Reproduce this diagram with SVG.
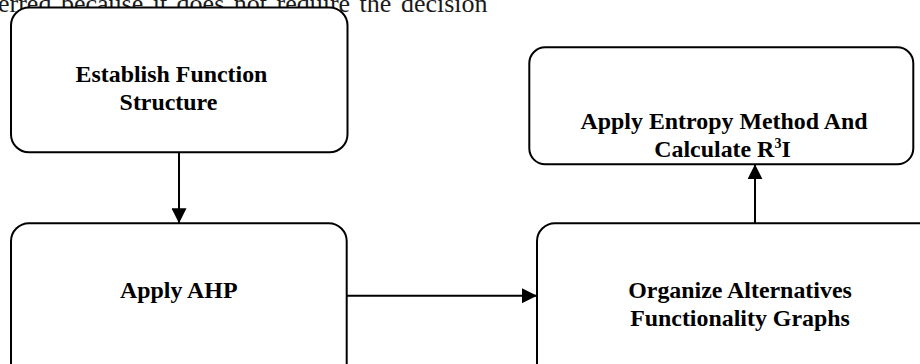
<svg xmlns="http://www.w3.org/2000/svg" width="920" height="364" viewBox="0 0 920 364">
<style>
.box{fill:#fff;stroke:#000;stroke-width:2}
.lbl{font-family:"Liberation Serif","Times New Roman",serif;font-weight:bold;font-size:23.9px;fill:#000;text-anchor:middle}
.body{font-family:"Liberation Serif","Times New Roman",serif;font-size:26px;fill:#1a1a1a}
.edge{stroke:#000;stroke-width:2;fill:none;marker-end:url(#ah)}
</style>
<defs>
<marker id="ah" markerUnits="userSpaceOnUse" markerWidth="15" markerHeight="15" viewBox="0 0 15 15" refX="15" refY="7.5" orient="auto">
<path d="M0,0 L15,7.5 L0,15 z" fill="#000"/>
</marker>
</defs>
<rect width="920" height="364" fill="#fff"/>
<text class="body" x="-2" y="12" word-spacing="3">erred because it does not require the decision</text>
<g id="n1">
<rect class="box" x="11" y="7.5" width="336.5" height="144.8" rx="18"/>
<text class="lbl" x="171.5" y="81.7">Establish Function</text>
<text class="lbl" x="168.5" y="110">Structure</text>
</g>
<g id="n2">
<rect class="box" x="529.3" y="47.3" width="384" height="117" rx="16"/>
<text class="lbl" x="724" y="129.3">Apply Entropy Method And</text>
<text class="lbl" x="722.5" y="157.3">Calculate R<tspan font-size="14" dy="-9.5">3</tspan><tspan dy="9.5">I</tspan></text>
</g>
<g id="n3">
<rect class="box" x="11" y="223.3" width="335.7" height="160" rx="18"/>
<text class="lbl" x="178.8" y="298">Apply AHP</text>
</g>
<g id="n4">
<rect class="box" x="537" y="223.3" width="410" height="160" rx="18"/>
<text class="lbl" x="740" y="298">Organize Alternatives</text>
<text class="lbl" x="740" y="325.5">Functionality Graphs</text>
</g>
<g id="connectors">
<line class="edge" x1="179" y1="152.3" x2="179" y2="223.3"/>
<line class="edge" x1="346.7" y1="295.7" x2="537" y2="295.7"/>
<line class="edge" x1="755" y1="223.3" x2="755" y2="164.3"/>
</g>
</svg>
